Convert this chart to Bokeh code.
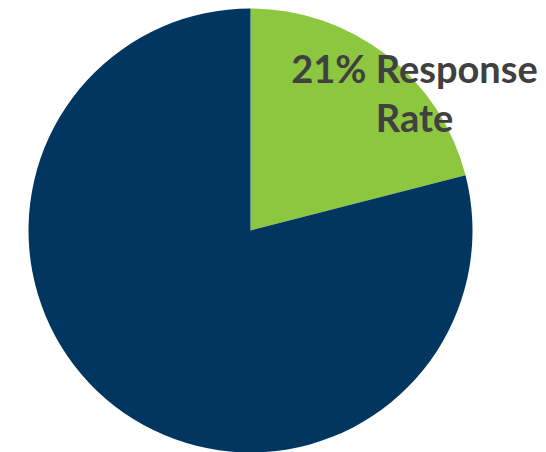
import math
from bokeh.plotting import figure
from bokeh.models import Range1d, ColumnDataSource
from bokeh.core.properties import value
from bokeh.embed import file_html
from bokeh.resources import INLINE

categories = ["Responded", "Did not respond"]
values = [21, 79]
colors = ["#8DC63F", "#003660"]
label_lines = ["21% Response", "Rate"]

W, H = 546, 452
cx, cy, r = 250, H - 230, 222

total = sum(values)
starts, ends = [], []
acc = 0.0
for v in values:
    a0 = math.pi / 2 - 2 * math.pi * acc / total
    acc += v
    a1 = math.pi / 2 - 2 * math.pi * acc / total
    starts.append(a0)
    ends.append(a1)

src = ColumnDataSource(dict(cat=categories, val=values, color=colors,
                            start=starts, end=ends))

p = figure(width=W, height=H, output_backend="svg", toolbar_location=None,
           x_range=Range1d(0, W), y_range=Range1d(0, H), min_border=0,
           outline_line_color=None, background_fill_color="white",
           border_fill_color="white")
p.axis.visible = False
p.grid.visible = False

p.wedge(x=cx, y=cy, radius=r, start_angle="start", end_angle="end",
        direction="clock", fill_color="color", line_color=None, source=src)

lbl = ColumnDataSource(dict(x=[414, 414], y=[H - 67, H - 116], t=label_lines))
p.text(x="x", y="y", text="t", source=lbl, text_align="center",
       text_baseline="alphabetic", text_font=value("Lato"),
       text_font_style="bold", text_font_size="38px", text_color="#404040")

open("out.html", "w").write(file_html(p, INLINE))
